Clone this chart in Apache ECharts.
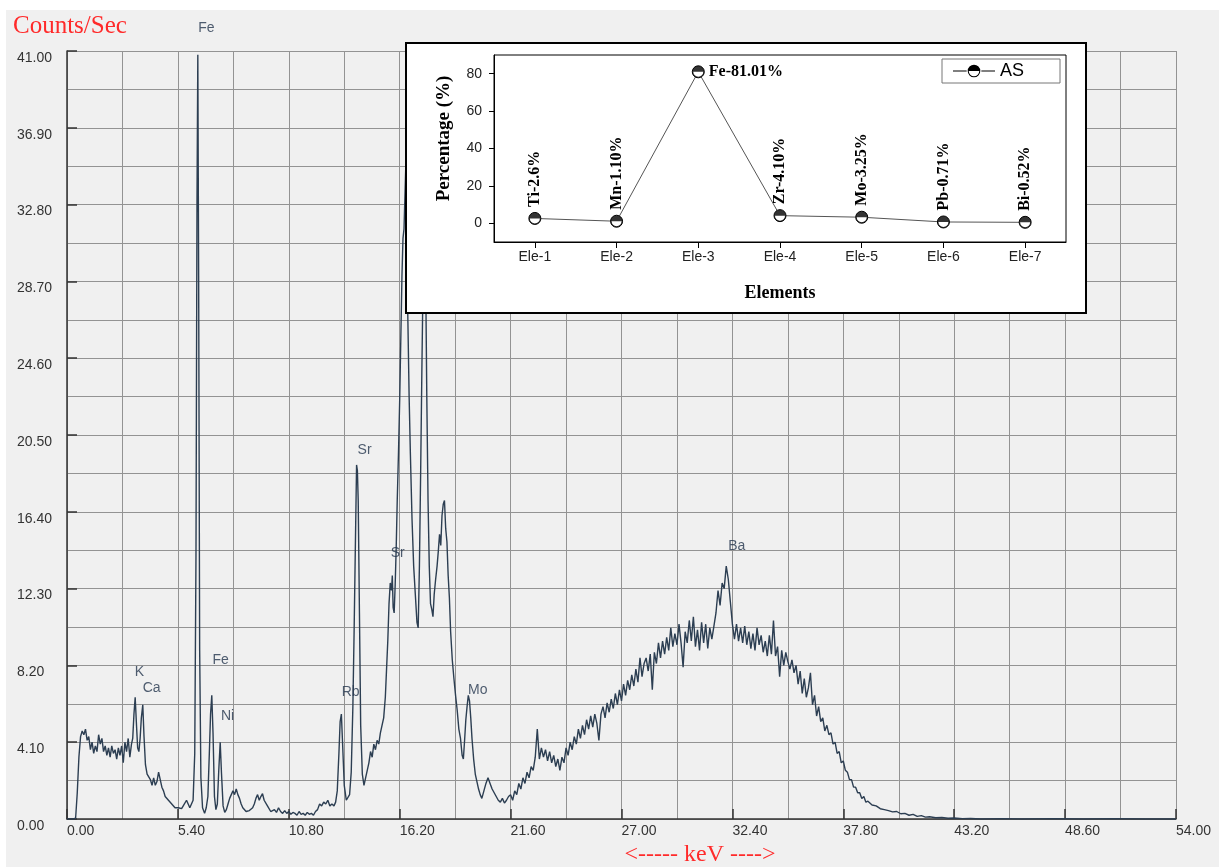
<!DOCTYPE html>
<html><head><meta charset="utf-8">
<script src="https://cdn.jsdelivr.net/npm/echarts@6/dist/echarts.min.js"></script>
<style>html,body{margin:0;padding:0;background:#fff}#c{width:1219px;height:867px}</style>
</head><body><div id="c"></div>
<script>
// ---------- Spectrum data (keV, counts/sec) ----------
const lowKeV = [0,0.3,0.42,0.5,0.58,0.66,0.74,0.82,0.9,0.98,1.06,1.14,1.22,1.3,1.38,1.46,1.54,1.62,1.7,1.78,1.86,1.94,2.02,2.1,2.18,2.26,2.34,2.42,2.5,2.58,2.66,2.74,2.82,2.9,2.98,3.06,3.14,3.2,3.26,3.32,3.38,3.44,3.5,3.56,3.62,3.69,3.75,3.82,3.9,3.98,4.06,4.14,4.22,4.3,4.38,4.46,4.54,4.62,4.7,4.78,4.86,4.94,5.02,5.1,5.18,5.26,5.34,5.42,5.5,5.58,5.66,5.74,5.82,5.9,5.98,6.06];
const lowCounts = [0,0,0.05,1.4,3.3,4.4,4.7,4.5,4.8,4.2,4.4,3.7,4.1,3.5,3.9,3.6,4.5,4.0,4.3,3.6,3.9,3.4,3.8,3.3,3.9,3.5,3.7,3.2,3.8,3.4,3.9,3.0,4.1,3.6,4.3,3.3,4.0,4.3,5.6,6.5,5.1,3.8,3.6,4.3,5.4,6.1,4.4,2.9,2.4,2.3,2.1,1.8,2.2,1.8,2.0,2.5,2.6,1.7,1.5,1.2,1.3,1.0,0.9,0.8,0.9,0.6,0.7,0.6,0.65,0.55,0.7,0.8,1.0,0.8,0.6,0.7];

const feKeV = [6.14,6.22,6.28,6.33,6.37,6.41,6.46,6.52,6.6,6.7,6.78,6.86,6.93,6.99,7.05,7.11,7.18,7.25,7.32,7.39,7.46,7.52,7.6,7.68,7.76,7.84,7.92];
const feCounts = [1.0,3.5,14,33,40.8,29,9,2.2,0.6,0.3,0.6,1.2,3.5,5.6,6.6,4.6,1.2,0.5,0.8,2.6,4.1,2.5,0.7,0.35,0.5,0.8,1.1];

const midKeV = [8.0,8.08,8.16,8.24,8.32,8.4,8.48,8.56,8.64,8.72,8.8,8.88,8.96,9.04,9.12,9.2,9.28,9.36,9.44,9.52,9.6,9.68,9.76,9.84,9.92,10.0,10.1,10.2,10.3,10.4,10.5,10.6,10.7,10.8,10.9,11.0,11.1,11.2,11.3,11.4,11.5,11.6,11.7,11.8,11.9,12.0,12.1,12.2,12.3,12.4,12.5,12.6,12.7,12.8,12.9,13.0,13.08];
const midCounts = [1.2,1.5,1.3,1.6,1.3,1.1,0.8,0.6,0.5,0.4,0.3,0.45,0.4,0.6,0.8,1.1,1.3,1.0,1.2,1.35,1.0,1.1,0.7,0.6,0.4,0.3,0.5,0.35,0.6,0.4,0.3,0.45,0.3,0.4,0.25,0.35,0.3,0.2,0.4,0.25,0.3,0.2,0.35,0.25,0.3,0.2,0.4,0.5,0.8,0.7,0.9,0.8,1.0,0.7,0.8,0.7,0.9];

const srKeV = [13.16,13.24,13.3,13.36,13.42,13.5,13.6,13.68,13.76,13.84,13.92,13.98,14.04,14.1,14.14,14.18,14.24,14.3,14.38,14.46,14.54,14.62,14.7,14.78,14.86,14.94,15.02,15.1,15.18,15.26,15.34,15.42,15.5,15.56,15.62,15.68,15.74,15.8,15.84,15.88,15.93,15.98,16.03,16.08,16.14,16.2,16.26,16.31,16.36,16.41,16.5,16.55,16.6,16.66,16.72,16.8,16.88,16.96,17.04,17.1,17.16,17.22,17.28,17.34,17.4,17.46,17.52,17.58,17.64,17.7,17.76,17.82,17.88,17.95,18.02,18.08,18.14,18.2,18.26,18.32,18.38,18.44,18.5,18.56,18.62,18.68,18.76,18.84,18.92,19.0,19.08,19.16,19.24,19.3,19.36,19.42,19.48,19.54,19.6,19.66,19.72,19.8,19.88,19.96,20.04,20.12,20.2,20.3,20.4,20.5,20.6,20.7,20.8,20.9,21.0,21.1,21.2,21.3,21.4,21.5,21.6];
const srCounts = [1.5,3.5,5.2,5.6,4.0,1.8,1.0,0.9,1.3,2.5,6.0,10.0,14.5,18.9,18.6,17.0,11.0,5.0,2.4,1.8,2.2,2.6,3.0,3.6,3.3,4.0,3.7,4.2,4.0,4.6,5.0,5.4,6.5,8.0,9.5,11.5,12.6,12.2,13.0,11.3,11.0,12.5,14.5,17.0,19.5,22.4,26.0,29.0,31.0,31.5,35.0,30.0,26.5,22.5,19.5,16.0,13.5,12.0,10.5,10.2,13.5,18.5,24.0,29.0,32.0,29.5,22.5,17.0,13.5,11.5,11.2,10.8,12.0,12.8,13.5,14.3,15.2,14.6,16.2,16.8,17.0,15.5,14.8,13.0,11.8,10.0,8.5,7.5,6.6,5.8,4.8,4.3,3.4,3.2,4.2,5.3,6.0,6.6,6.3,5.4,4.3,3.2,2.4,2.0,1.6,1.3,1.1,1.5,1.9,2.2,1.9,1.6,1.4,1.2,1.0,0.9,1.1,0.85,1.0,1.2,1.3];

const contKeV = [
21.7,21.8,21.9,22.0,22.1,22.2,22.3,22.4,22.5,22.6,
22.7,22.8,22.9,23.0,23.1,23.2,23.3,23.4,23.5,23.6,
23.7,23.8,23.9,24.0,24.1,24.2,24.3,24.4,24.5,24.6,
24.7,24.8,24.9,25.0,25.1,25.2,25.3,25.4,25.5,25.6,
25.7,25.8,25.9,26.0,26.1,26.2,26.3,26.4,26.5,26.6,
26.7,26.8,26.9,27.0,27.1,27.2,27.3,27.4,27.5,27.6,
27.7,27.8,27.9,28.0,28.1,28.2,28.3,28.4,28.5,28.6,
28.7,28.8,28.9,29.0,29.1,29.2,29.3,29.4,29.5,29.6,
29.7,29.8,29.9,30.0,30.1,30.2,30.3,30.4,30.5,30.6,
30.7,30.8,30.9,31.0,31.1,31.2,31.3,31.4,31.5,31.6,
31.7,31.8,31.9,32.0,32.1,32.2,32.3,32.4,32.5,32.6,
32.7,32.8,32.9,33.0,33.1,33.2,33.3,33.4,33.5,33.6,
33.7,33.8,33.9,34.0,34.1,34.2,34.3,34.4,34.5,34.6,
34.7,34.8,34.9,35.0,35.1,35.2,35.3,35.4,35.5,35.6,
35.7,35.8,35.9,36.0,36.1,36.2,36.3,36.4,36.5,36.6,
36.7,36.8,36.9,37.0,37.1,37.2,37.3,37.4,37.5,37.6,
37.7,37.8,37.9,38.0,38.1,38.2,38.3,38.4,38.5,38.6,
38.7,38.8,38.9];
const contCounts = [
1.0,1.5,1.3,1.9,1.6,2.2,1.9,2.5,2.2,2.8,
2.6,3.3,4.8,3.2,3.8,3.3,3.7,3.1,3.6,3.0,
3.4,2.8,3.2,2.6,3.3,3.0,3.8,3.4,4.1,3.7,
4.4,4.0,4.8,4.3,5.0,4.5,5.3,4.8,5.5,4.9,
5.6,5.1,4.2,5.6,6.0,5.4,6.2,5.7,6.4,5.9,
6.7,6.1,6.9,6.3,7.2,6.6,7.4,6.9,7.7,7.1,
8.0,7.3,8.6,7.6,8.3,8.6,7.9,8.8,6.9,8.9,
8.3,9.4,8.6,9.5,8.8,9.7,9.0,10.2,9.2,9.9,
9.3,10.4,9.4,8.1,10.0,9.4,10.6,9.5,10.8,9.2,
10.1,9.0,10.5,9.4,10.4,9.1,10.2,9.6,10.3,11.0,
12.2,11.4,12.6,12.3,13.5,12.8,11.6,10.4,9.6,10.4,
9.5,10.2,9.4,10.3,9.3,10.0,9.1,9.9,9.0,10.2,
9.3,9.8,8.9,9.5,8.7,9.8,8.8,10.6,8.7,9.2,
7.6,9.0,8.2,8.9,8.4,8.0,8.5,7.8,8.2,7.2,
7.9,6.7,7.5,6.5,7.0,7.8,6.1,6.6,5.5,6.0,
5.2,5.4,4.7,5.0,4.5,4.6,4.0,4.1,3.5,3.6,
3.0,3.1,2.6,2.5,2.1,2.1,1.7,1.7,1.4,1.4,
1.1,1.2,0.9];

const tailKeV = [39.0,39.2,39.4,39.6,39.8,40.0,40.2,40.4,40.6,40.8,41.0,41.2,41.4,41.6,41.8,42.0,42.3,42.6,42.9,43.2,43.6,44.0,44.5,45.5,46.5,48.0,49.5,51.0,52.5,54.0];
const tailCounts = [0.95,0.75,0.7,0.55,0.5,0.45,0.38,0.4,0.28,0.3,0.2,0.25,0.14,0.18,0.1,0.12,0.07,0.08,0.04,0.05,0.02,0.03,0,0.02,0,0.02,0,0.02,0,0];

// ---------- Peak annotations ----------
const peakNames  = ['Fe','K','Ca','Fe','Ni','Rb','Sr','Sr','Mo','Ba'];
const peakKeV    = [6.79,3.53,4.12,7.48,7.82,13.81,14.49,16.10,20.0,32.61];
const peakCounts = [42.23,7.85,6.99,8.49,5.50,6.78,19.70,14.20,6.89,14.58];

// ---------- Inset data ----------
const elementCats = ['Ele-1','Ele-2','Ele-3','Ele-4','Ele-5','Ele-6','Ele-7'];
const elementPct = [2.6,1.10,81.01,4.10,3.25,0.71,0.52];
const elementLabels = ['Ti-2.6%','Mn-1.10%','Fe-81.01%','Zr-4.10%','Mo-3.25%','Pb-0.71%','Bi-0.52%'];
const pctTicks = [0,20,40,60,80];

// ---------- Build ----------
const spectrum = [];
[[lowKeV,lowCounts],[feKeV,feCounts],[midKeV,midCounts],[srKeV,srCounts],[contKeV,contCounts],[tailKeV,tailCounts]]
  .forEach(([xs,ys]) => xs.forEach((x,i) => spectrum.push([x, ys[i]])));

const peakIdx = elementPct.indexOf(Math.max(...elementPct));
const halfMark = 'path://M0 6 A6 6 0 0 1 12 6 Z M0 6 A6 6 0 0 0 12 6 L11 6 A5 5 0 0 1 1 6 Z';
const legendIcon = 'path://M0 5.5 L13 5.5 L13 6.5 L0 6.5 Z M27 5.5 L40 5.5 L40 6.5 L27 6.5 Z M14 6 A6 6 0 0 1 26 6 Z M14 6 A6 6 0 0 0 26 6 L25 6 A5 5 0 0 1 15 6 Z';

const sans = '"Liberation Sans", Arial, sans-serif';
const serif = '"Liberation Serif", "Times New Roman", serif';
const gridLineStyle = {color:'#939393', width:1};
const hidden = {axisLine:{show:false}, axisTick:{show:false}, axisLabel:{show:false}};

const chart = echarts.init(document.getElementById('c'), null, {renderer:'canvas'});
chart.setOption({
  animation: false,
  backgroundColor: '#ffffff',
  graphic: [
    {type:'rect', z:-10, shape:{x:6, y:10, width:1213, height:857}, style:{fill:'#f0f0f0'}},
    {type:'rect', z:5, shape:{x:406, y:43, width:680, height:270}, style:{fill:'#ffffff', stroke:'#000', lineWidth:2}},
    {type:'text', z:6, left:13, top:14, style:{text:'Counts/Sec', font:'25px ' + serif, fill:'#ff2a2a'}},
    {type:'text', z:6, x:700, y:855, style:{text:'<----- keV ---->', font:'24px ' + serif, fill:'#ff2a2a', align:'center', verticalAlign:'middle', textAlign:'center', textVerticalAlign:'middle'}}
  ],
  legend: {
    left: 942, top: 59, z: 12, selectedMode: false,
    data: [{name:'AS', icon: legendIcon, itemStyle:{color:'#000', borderWidth:0}}],
    itemWidth: 42, itemHeight: 13, itemGap: 0,
    textStyle: {fontFamily: sans, fontSize: 18, color:'#000'},
    borderColor: '#777', borderWidth: 1, backgroundColor: '#fff',
    padding: [3, 36, 3, 11]
  },
  grid: [
    {left:67, top:51, right:43, bottom:48, outerBoundsMode:'none', containLabel:false},
    {left:494, top:55, width:572, height:187, outerBoundsMode:'none', containLabel:false,
     show:true, borderColor:'#000', borderWidth:1, backgroundColor:'rgba(0,0,0,0)', z:10}
  ],
  xAxis: [
    {type:'value', gridIndex:0, min:0, max:54, interval:5.4, z:1,
     axisLine:{show:true, lineStyle:{color:'#333', width:1.5}},
     axisTick:{show:true, inside:true, length:10, lineStyle:{color:'#333', width:1.5}},
     axisLabel:{formatter: v => v.toFixed(2), align:'left', margin:5,
                fontFamily: sans, fontSize:14, color:'#333'},
     splitLine:{show:false}},
    {type:'category', gridIndex:1, data: elementCats, boundaryGap:true, z:10,
     axisLine:{show:true, onZero:false, lineStyle:{color:'#000', width:1}},
     axisTick:{show:true, alignWithLabel:true, length:6, lineStyle:{color:'#000'}},
     axisLabel:{fontFamily: sans, fontSize:14, color:'#222', margin:8},
     splitLine:{show:false},
     name:'Elements', nameLocation:'middle', nameGap:42,
     nameTextStyle:{fontFamily: serif, fontWeight:'bold', fontSize:18, color:'#000'}},
    Object.assign({type:'value', gridIndex:0, min:0, max:54, interval:2.7, z:0,
     splitLine:{show:true, lineStyle:gridLineStyle}}, hidden)
  ],
  yAxis: [
    {type:'value', gridIndex:0, min:0, max:41, interval:4.1, z:1,
     axisLine:{show:true, lineStyle:{color:'#333', width:1.5}},
     axisTick:{show:true, inside:true, length:10, lineStyle:{color:'#333', width:1.5}},
     axisLabel:{formatter: v => v.toFixed(2), align:'left', verticalAlign:'top', margin:50,
                fontFamily: sans, fontSize:14, color:'#333'},
     splitLine:{show:false}},
    {type:'value', gridIndex:1, min:-10, max:90, interval:10, z:10,
     axisLine:{show:true, onZero:false, lineStyle:{color:'#000', width:1}},
     axisTick:{show:true, customValues: pctTicks, length:5, lineStyle:{color:'#000'}},
     axisLabel:{customValues: pctTicks, fontFamily: sans, fontSize:14, color:'#222', margin:12},
     splitLine:{show:false},
     name:'Percentage (%)', nameLocation:'middle', nameGap:40,
     nameTextStyle:{fontFamily: serif, fontWeight:'bold', fontSize:19, color:'#000', padding:[0,0,0,20]}},
    Object.assign({type:'value', gridIndex:0, min:0, max:41, interval:2.05, z:0,
     splitLine:{show:true, lineStyle:gridLineStyle}}, hidden)
  ],
  series: [
    {type:'line', xAxisIndex:0, yAxisIndex:0, data: spectrum, symbol:'none', silent:true, z:2,
     lineStyle:{color:'#2c3e52', width:1.4}},
    {type:'scatter', xAxisIndex:0, yAxisIndex:0, clip:false, silent:true, z:3,
     data: peakNames.map((n,i) => ({name:n, value:[peakKeV[i], peakCounts[i]]})),
     symbolSize:1, itemStyle:{color:'rgba(0,0,0,0)'},
     label:{show:true, position:'inside', formatter:'{b}', fontFamily: sans, fontSize:14, color:'#24364e'}},
    {type:'line', name:'AS', xAxisIndex:1, yAxisIndex:1, z:10,
     data: elementPct.map((v,i) => i === peakIdx
        ? {value:v, label:{position:'right', rotate:0, align:'left', verticalAlign:'middle', distance:4}}
        : {value:v}),
     symbol:'circle', symbolSize:12,
     itemStyle:{color:'#fff', borderColor:'#000', borderWidth:1},
     lineStyle:{color:'#555', width:1},
     label:{show:true, position:'top', rotate:90, align:'left', verticalAlign:'middle', distance:5,
            formatter: p => elementLabels[p.dataIndex],
            fontFamily: serif, fontWeight:'bold', fontSize:16, color:'#000'}},
    {type:'scatter', name:'ASmark', xAxisIndex:1, yAxisIndex:1, z:11, silent:true,
     data: elementPct, symbol: halfMark, symbolSize:12, itemStyle:{color:'#000'}}
  ]
});
</script>
</body></html>
